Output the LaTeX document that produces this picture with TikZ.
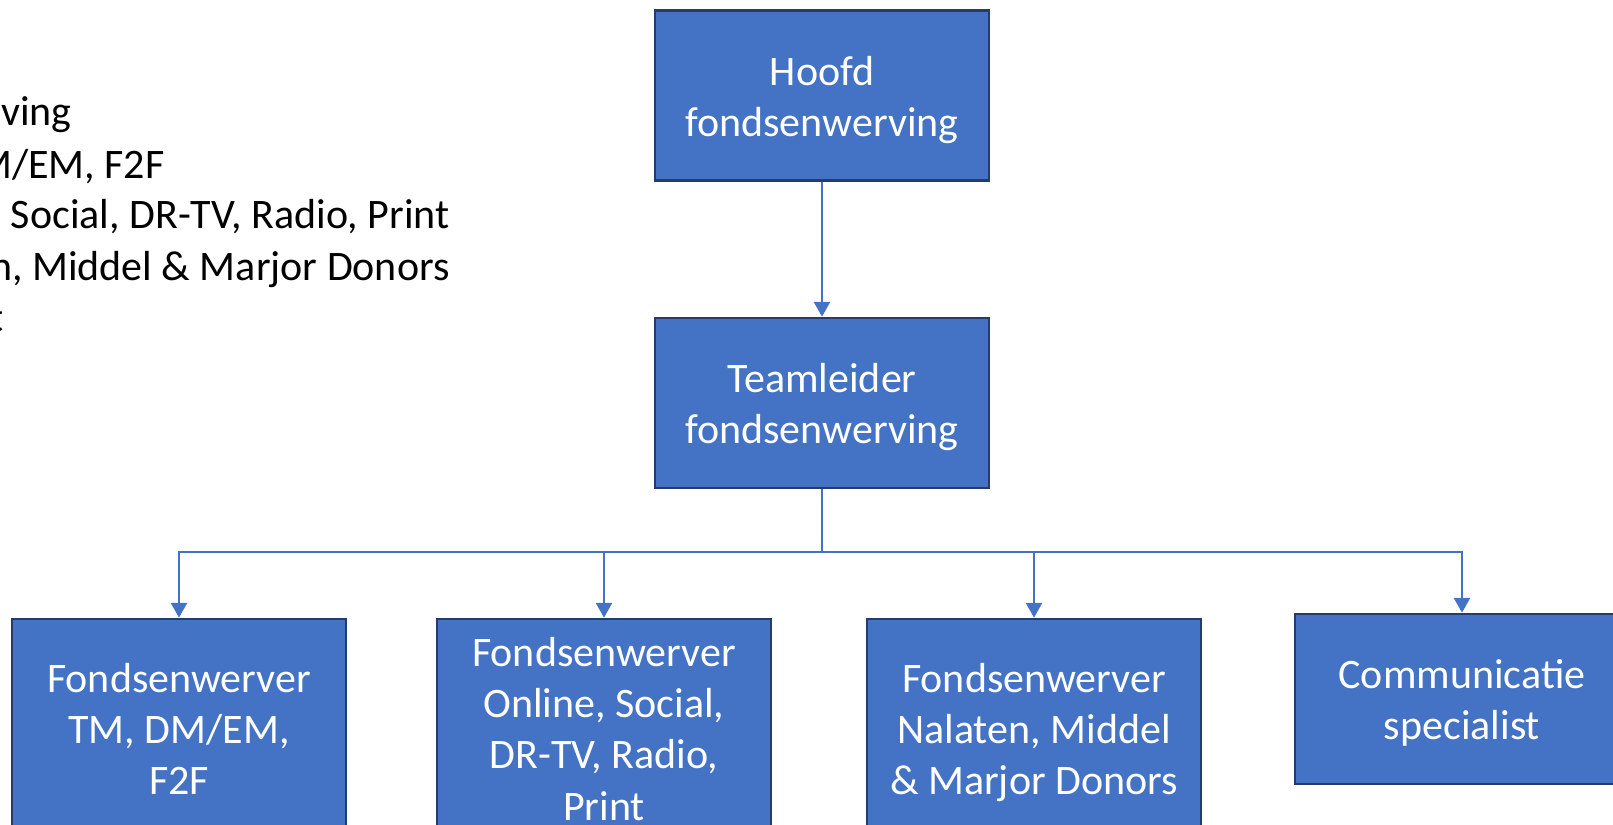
\documentclass[tikz,border=0pt]{standalone}
\usepackage{fontspec}
\setmainfont{Carlito}
\usetikzlibrary{arrows.meta}

\definecolor{boxfill}{HTML}{4472C4}
\definecolor{boxedge}{HTML}{233C6A}
\definecolor{linkblue}{HTML}{4472C4}

% line strut: ascent plus line gap above, descent below
\newcommand\ls{\vrule width 0pt height 20.4pt depth 5.2pt}

\tikzset{
  orgbox/.style={draw=boxedge, line width=1.25pt, fill=boxfill, text=white,
    align=center, inner sep=0pt, minimum width=167pt,
    font=\fontsize{21}{25.6}\selectfont},
  tallbox/.style={orgbox, minimum height=109pt},
  shortbox/.style={orgbox, minimum height=85pt},
  link/.style={draw=linkblue, line width=1.4pt,
    -{Triangle[width=8pt,length=7.5pt]}},
  stem/.style={draw=linkblue, line width=1.4pt},
  listline/.style={anchor=base east, inner sep=0pt, text=black,
    font=\fontsize{21}{25.6}\selectfont}
}

\begin{document}
\begin{tikzpicture}[x=0.5pt,y=-0.5pt]
  \useasboundingbox (0,0) rectangle (1613,825);
  \clip (0,0) rectangle (1613,825);

  % list of roles, running in from the left edge
  \node[listline] (l1) at (72,125) {Teamleider fondsenwerving};
  \node[listline] (l2) at (165,178) {Fondsenwerver TM, DM/EM, F2F};
  \node[listline] (l3) at (450,228) {Fondsenwerver Online, Social, DR-TV, Radio, Print};
  \node[listline] (l4) at (450,280) {Fondsenwerver Nalaten, Middel \& Marjor Donors};
  \node[listline] (l5) at (4,331) {Communicatie specialist};

  % organisation chart
  \node[shortbox] (hoofd) at (822,95.5) {\ls Hoofd\\\ls fondsenwerving};
  \node[shortbox] (team) at (822,403) {\ls Teamleider\\\ls fondsenwerving};

  \node[tallbox] (f1) at (179,728) {\ls Fondsenwerver\\\ls TM, DM/EM,\\\ls F2F};
  \node[tallbox] (f2) at (604,728) {\ls Fondsenwerver\\\ls Online, Social,\\\ls DR-TV, Radio,\\\ls Print};
  \node[tallbox] (f3) at (1034,728) {\ls Fondsenwerver\\\ls Nalaten, Middel\\\ls \& Marjor Donors};
  \node[shortbox] (comm) at (1462,699) {\ls Communicatie\\\ls specialist};

  \draw[link] (hoofd.south) -- (team.north);

  \coordinate (split) at (822,552);
  \draw[stem] (team.south) -- (split);
  \draw[link] (split) -| (f1.north);
  \draw[link] (split) -| (f2.north);
  \draw[link] (split) -| (f3.north);
  \draw[link] (split) -| (comm.north);
\end{tikzpicture}
\end{document}
